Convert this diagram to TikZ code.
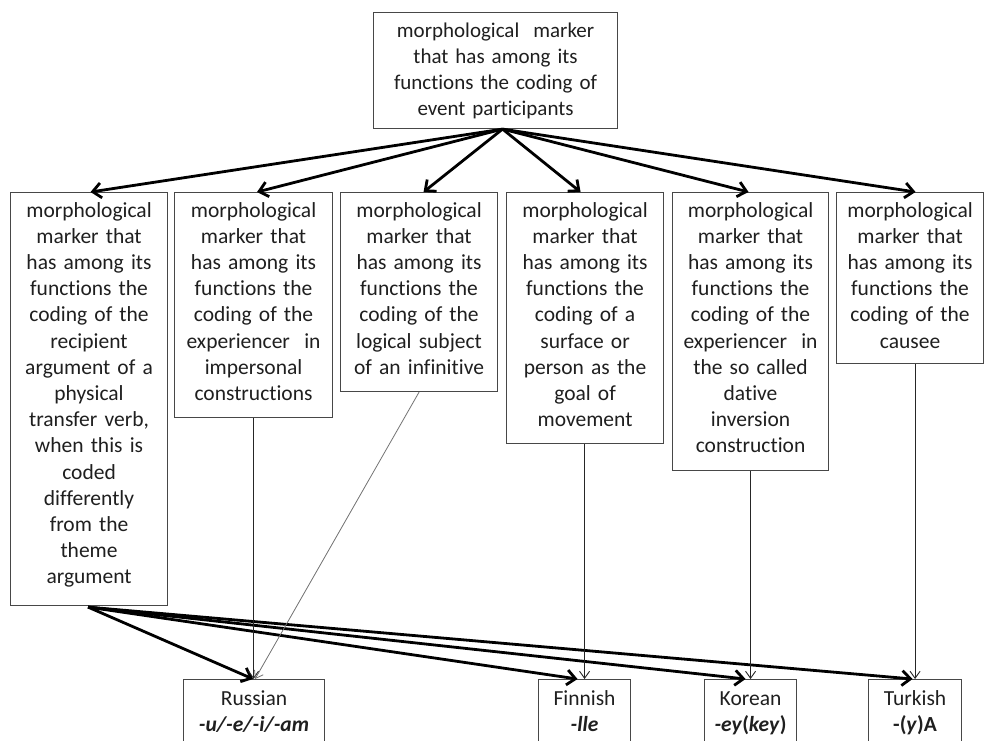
\documentclass[tikz,border=0pt]{standalone}
\usepackage{fontspec}
\setmainfont{Carlito}[Ligatures={TeX,NoCommon}]
\usetikzlibrary{arrows.meta}
\begin{document}
\begin{tikzpicture}[x=1pt,y=-1pt,
  cellbox/.style={draw=black!72, line width=1.1pt, inner sep=0pt, anchor=north west},
  celltext/.style={text=black!88, align=center, inner sep=0pt, anchor=base,
                   font=\fontsize{21.5}{26.2}\selectfont},
  fanarrow/.style={line width=2.8pt, black, -{Straight Barb[length=8.5pt,width=15pt]}},
  linkarrow/.style={line width=0.9pt, black!85, -{Straight Barb[length=7pt,width=10pt]}},
  slantarrow/.style={line width=0.8pt, black!55, -{Straight Barb[length=7pt,width=10pt]}},
]
\useasboundingbox (0,0) rectangle (984,740);
\fill[white] (0,0) rectangle (984,740);
\clip (0,0) rectangle (984,740);

% root box
\node[cellbox, minimum width=244pt, minimum height=116pt] (root) at (373,12) {};
\node[celltext, text width=236pt, font=\fontsize{21}{26}\selectfont] (troot) at ([yshift=-25pt]root.north)
  {morphological\ \ marker\\that has among its\\functions the coding of\\event participants};

% second level: the functions
\node[cellbox, minimum width=157pt, minimum height=413pt] (b1) at (10,192) {};
\node[cellbox, minimum width=158pt, minimum height=225pt] (b2) at (174,192) {};
\node[cellbox, minimum width=157pt, minimum height=199pt] (b3) at (340,192) {};
\node[cellbox, minimum width=157pt, minimum height=251pt] (b4) at (506,192) {};
\node[cellbox, minimum width=156pt, minimum height=278pt] (b5) at (672,192) {};
\node[cellbox, minimum width=147pt, minimum height=171pt] (b6) at (836,192) {};

\node[celltext, text width=150pt] (t1) at ([yshift=-25pt]b1.north)
  {morphological\\marker that\\has among its\\functions the\\coding of the\\recipient\\argument of a\\physical\\transfer verb,\\when this is\\coded\\differently\\from the\\theme\\argument};
\node[celltext, text width=150pt] (t2) at ([yshift=-25pt]b2.north)
  {morphological\\marker that\\has among its\\functions the\\coding of the\\experiencer\ \ in\\impersonal\\constructions};
\node[celltext, text width=150pt] (t3) at ([yshift=-25pt]b3.north)
  {morphological\\marker that\\has among its\\functions the\\coding of the\\logical subject\\of an infinitive};
\node[celltext, text width=150pt] (t4) at ([yshift=-25pt]b4.north)
  {morphological\\marker that\\has among its\\functions the\\coding of a\\surface or\\person as the\\goal of\\movement};
\node[celltext, text width=150pt] (t5) at ([yshift=-25pt]b5.north)
  {morphological\\marker that\\has among its\\functions the\\coding of the\\experiencer\ \ in\\the so called\\dative\\inversion\\construction};
\node[celltext, text width=140pt] (t6) at ([yshift=-25pt]b6.north)
  {morphological\\marker that\\has among its\\functions the\\coding of the\\causee};

% bottom level: the languages
\node[cellbox, minimum width=141pt, minimum height=90pt] (ru) at (183,679) {};
\node[cellbox, minimum width=92pt, minimum height=90pt] (fi) at (538,679) {};
\node[cellbox, minimum width=92pt, minimum height=90pt] (ko) at (704,679) {};
\node[cellbox, minimum width=93pt, minimum height=90pt] (tu) at (868,679) {};

\node[celltext, text width=136pt] (tru) at ([yshift=-26pt]ru.north)
  {Russian\\\textbf{\textit{-u/-e/-i/-am}}};
\node[celltext, text width=88pt] (tfi) at ([yshift=-26pt]fi.north)
  {Finnish\\\textbf{\textit{-lle}}};
\node[celltext, text width=88pt] (tko) at ([yshift=-26pt]ko.north)
  {Korean\\\textbf{\textit{-ey}(\textit{key})}};
\node[celltext, text width=88pt] (ttu) at ([yshift=-26pt]tu.north)
  {Turkish\\\textbf{-(\textit{y})A}};

% fan from the root to the functions
\coordinate (apex) at ([xshift=7pt]root.south);
\draw[fanarrow] (apex) -- ([xshift=1.5pt]b1.north);
\draw[fanarrow] (apex) -- ([xshift=3.5pt]b2.north);
\draw[fanarrow] (apex) -- ([xshift=4.5pt]b3.north);
\draw[fanarrow] (apex) -- ([xshift=-4.5pt]b4.north);
\draw[fanarrow] (apex) -- ([xshift=-2pt]b5.north);
\draw[fanarrow] (apex) -- ([xshift=5.5pt]b6.north);

% recipient function to all four languages
\coordinate (rsrc) at ([xshift=-1pt,yshift=-1pt]b1.south);
\draw[fanarrow] (rsrc) -- ([xshift=-1pt]ru.north);
\draw[fanarrow] (rsrc) -- ([xshift=-7pt]fi.north);
\draw[fanarrow] (rsrc) -- ([xshift=-5pt]ko.north);
\draw[fanarrow] (rsrc) -- ([xshift=-2.5pt]tu.north);

% single links from the other functions
\draw[linkarrow] (b2.south) -- (b2.south |- ru.north);
\draw[slantarrow] (b3.south) -- ([xshift=1pt]ru.north);
\draw[linkarrow] (fi.north |- b4.south) -- (fi.north);
\draw[linkarrow] (ko.north |- b5.south) -- (ko.north);
\draw[linkarrow] (tu.north |- b6.south) -- (tu.north);
\end{tikzpicture}
\end{document}
